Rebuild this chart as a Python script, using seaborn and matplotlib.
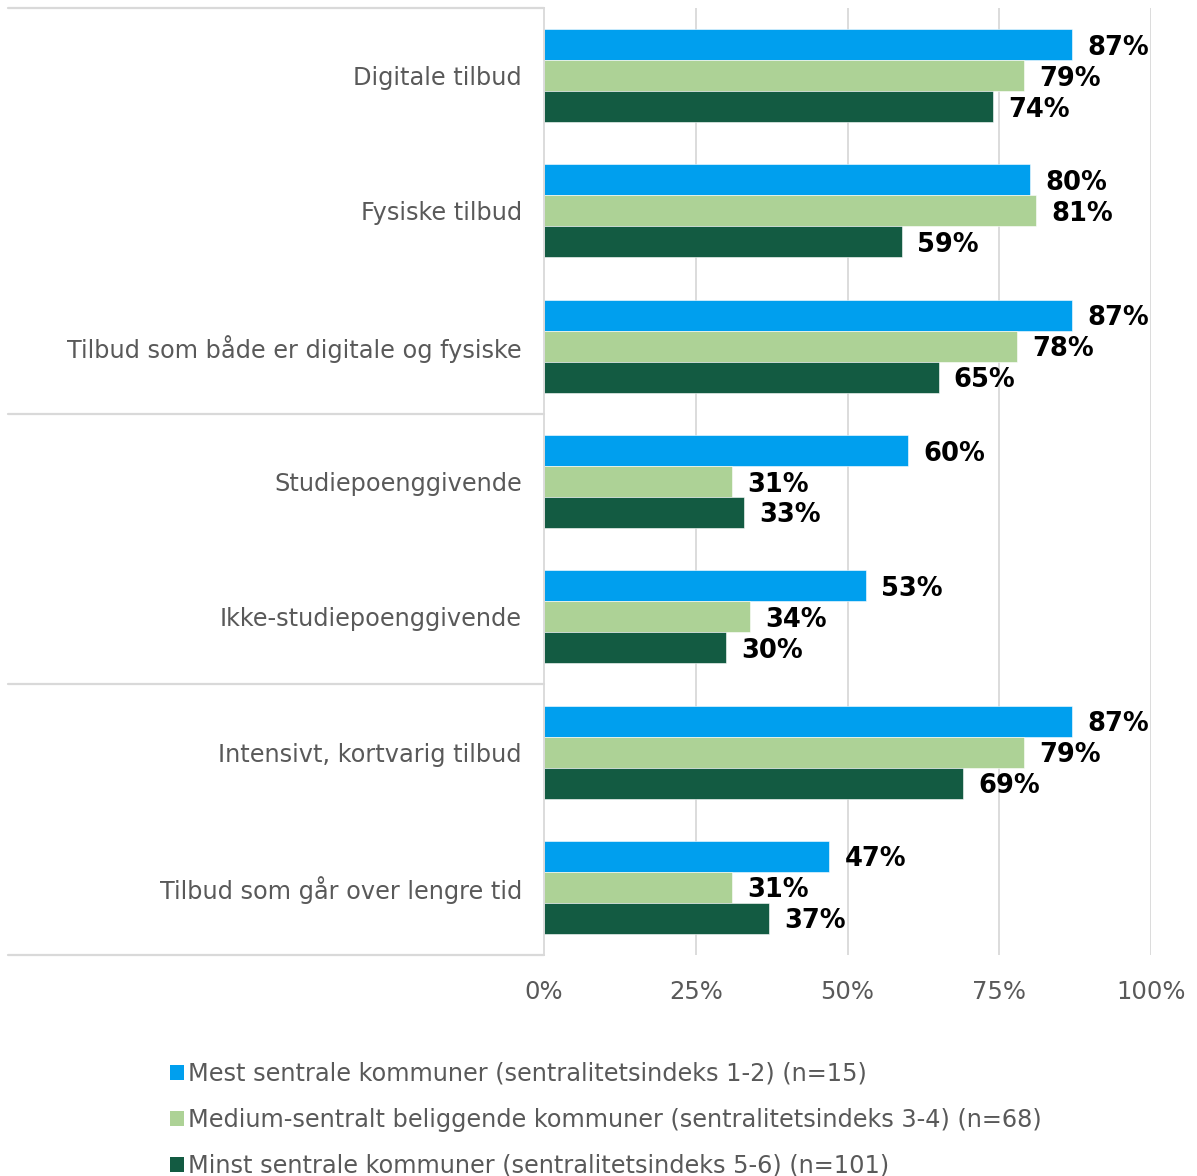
import matplotlib
matplotlib.use("Agg")
import matplotlib.pyplot as plt
import seaborn as sns
import pandas as pd
from matplotlib.lines import Line2D
from matplotlib.patches import Patch

categories = [
    "Digitale tilbud",
    "Fysiske tilbud",
    "Tilbud som både er digitale og fysiske",
    "Studiepoenggivende",
    "Ikke-studiepoenggivende",
    "Intensivt, kortvarig tilbud",
    "Tilbud som går over lengre tid",
]
series_names = [
    "Mest sentrale kommuner (sentralitetsindeks 1-2) (n=15)",
    "Medium-sentralt beliggende kommuner (sentralitetsindeks 3-4) (n=68)",
    "Minst sentrale kommuner (sentralitetsindeks 5-6) (n=101)",
]
mest = [87, 80, 87, 60, 53, 87, 47]
medium = [79, 81, 78, 31, 34, 79, 31]
minst = [74, 59, 65, 33, 30, 69, 37]
colors = ["#009FEE", "#ADD296", "#135B42"]
x_ticks = [0, 25, 50, 75, 100]
x_tick_labels = ["0%", "25%", "50%", "75%", "100%"]

rows = []
for name, vals in zip(series_names, [mest, medium, minst]):
    for c, v in zip(categories, vals):
        rows.append({"Kategori": c, "Serie": name, "Verdi": v})
df = pd.DataFrame(rows)

sns.set_theme(style="white")
plt.rcParams["font.family"] = ["DejaVu Sans"]

fig = plt.figure(figsize=(11.97, 11.76), dpi=100)
ax = fig.add_axes([544 / 1197, 1 - 955 / 1176, (1151 - 544) / 1197, (955 - 8) / 1176])

sns.barplot(data=df, y="Kategori", x="Verdi", hue="Serie", order=categories,
            hue_order=series_names, palette=colors, orient="h", width=0.687,
            gap=0, ax=ax, legend=False, edgecolor="white", linewidth=0.4,
            saturation=1)

for cont in ax.containers:
    texts = ax.bar_label(cont, labels=[f"{v:.0f}%" for v in cont.datavalues],
                         padding=11, fontsize=18.5, fontweight="bold", color="black")
    for t in texts:
        t.set_va("center_baseline")

ax.set_xlim(0, 100)
ax.set_ylim(len(categories) - 0.5, -0.5)
ax.set_xticks(x_ticks)
ax.set_xticklabels(x_tick_labels)
ax.set_xlabel("")
ax.set_ylabel("")
ax.tick_params(axis="x", length=0, pad=18, labelsize=17.5, labelcolor="#595959")
ax.tick_params(axis="y", length=0, pad=16, labelsize=17.3, labelcolor="#595959")

for xv in x_ticks[1:]:
    ax.axvline(xv, color="#D9D9D9", linewidth=1.3, zorder=0)

for s in ["top", "right", "bottom"]:
    ax.spines[s].set_visible(False)
ax.spines["left"].set_color("#D9D9D9")
ax.spines["left"].set_linewidth(1.3)

# separator lines in label area
left_x = (8 - 544) / 607 * 100
for yv in [-0.5, 2.5, 4.5, 6.5]:
    ax.add_line(Line2D([left_x, 0], [yv, yv], color="#D9D9D9", linewidth=1.6,
                       clip_on=False))

handles = [Patch(facecolor=c, edgecolor="none") for c in colors]
fig.legend(handles, series_names, loc="upper left",
           bbox_to_anchor=(160 / 1197, 1 - 1052 / 1176), frameon=False,
           fontsize=17.3, labelcolor="#595959", handlelength=0.6, handleheight=0.6,
           handletextpad=0.15, labelspacing=0.92, borderaxespad=0)

fig.savefig("out.png", dpi=100)
